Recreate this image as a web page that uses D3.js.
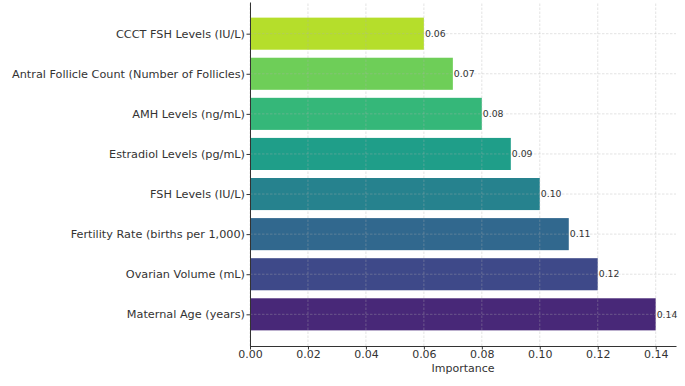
<!DOCTYPE html>
<html>
<head>
<meta charset="utf-8">
<script src="https://cdn.jsdelivr.net/npm/d3@7"></script>
<style>
  body { margin: 0; background: #fff; }
  text { font-family: "DejaVu Sans", sans-serif; }
</style>
</head>
<body>
<div id="chart"></div>
<script>
// features, sorted from most to least important
const features = [
    "Maternal Age (years)",
    "Ovarian Volume (mL)",
    "Fertility Rate (births per 1,000)",
    "FSH Levels (IU/L)",
    "Estradiol Levels (pg/mL)",
    "AMH Levels (ng/mL)",
    "Antral Follicle Count (Number of Follicles)",
    "CCCT FSH Levels (IU/L)"
];
const importance = [0.14, 0.12, 0.11, 0.10, 0.09, 0.08, 0.07, 0.06];
const xTicks = [0.00, 0.02, 0.04, 0.06, 0.08, 0.10, 0.12, 0.14];

let width = 685;
let height = 386;
let margin = { left: 250, right: 9, top: 2, bottom: 40 };

let svg = d3.select("#chart")
    .append("svg")
    .attr("width", width)
    .attr("height", height);

// x scale with matplotlib-like 5% margin on the right
let xMax = d3.max(importance) * 1.05;
let xScale = d3.scaleLinear()
    .domain([0, xMax])
    .range([margin.left, width - margin.right]);

// y: position index, first feature at the bottom
let n = features.length;
let yScale = d3.scaleLinear()
    .domain([-0.79, n - 1 + 0.79])
    .range([height - margin.bottom, margin.top]);
let barH = yScale(0) - yScale(0.8);

// seaborn viridis palette (n + 2 samples, ends dropped)
let colorOf = i => d3.interpolateViridis((i + 1) / (n + 1));

// bars
svg.selectAll("rect.bar")
    .data(importance)
    .enter()
    .append("rect")
    .attr("class", "bar")
    .attr("x", xScale(0))
    .attr("y", (d, i) => yScale(i) - barH / 2)
    .attr("width", d => xScale(d) - xScale(0))
    .attr("height", barH)
    .attr("fill", (d, i) => colorOf(i));

// grid, drawn over the bars
let grid = svg.append("g")
    .attr("stroke", "#b0b0b0")
    .attr("stroke-opacity", 0.5)
    .attr("stroke-width", 0.7)
    .attr("stroke-dasharray", "2.5,1.5");

grid.selectAll("line.vx")
    .data(xTicks)
    .enter()
    .append("line")
    .attr("x1", d => xScale(d))
    .attr("x2", d => xScale(d))
    .attr("y1", yScale.range()[0])
    .attr("y2", yScale.range()[1]);

grid.selectAll("line.hy")
    .data(d3.range(n))
    .enter()
    .append("line")
    .attr("x1", xScale.range()[0])
    .attr("x2", xScale.range()[1])
    .attr("y1", d => yScale(d))
    .attr("y2", d => yScale(d));

// value labels
svg.selectAll("text.val")
    .data(importance)
    .enter()
    .append("text")
    .attr("x", d => xScale(d) + 1)
    .attr("y", (d, i) => yScale(i))
    .attr("dy", "0.35em")
    .attr("font-size", "9.3px")
    .attr("fill", "#333")
    .text(d => d.toFixed(2));

// axes
let xAxis = d3.axisBottom(xScale)
    .tickValues(xTicks)
    .tickFormat(d3.format(".2f"))
    .tickSize(3.5)
    .tickSizeOuter(0);

let yAxis = d3.axisLeft(yScale)
    .tickValues(d3.range(n))
    .tickFormat(i => features[i])
    .tickSize(3.5)
    .tickSizeOuter(0);

let gx = svg.append("g")
    .attr("transform", "translate(0," + yScale.range()[0] + ")")
    .call(xAxis);

let gy = svg.append("g")
    .attr("transform", "translate(" + margin.left + ",0)")
    .call(yAxis);

[gx, gy].forEach(g => {
    g.select(".domain").attr("stroke", "#333").attr("stroke-width", 1);
    g.selectAll(".tick line").attr("stroke", "#333");
    g.selectAll(".tick text")
        .attr("fill", "#333")
        .style("font-family", "DejaVu Sans, sans-serif");
});
gx.selectAll(".tick text")
    .attr("font-size", "11px")
    .attr("y", 12)
    .attr("dy", 0);
gy.selectAll(".tick text")
    .attr("font-size", "11.25px")
    .attr("x", -5);

// axis title
svg.append("text")
    .attr("x", (xScale.range()[0] + xScale.range()[1]) / 2)
    .attr("y", 372)
    .attr("text-anchor", "middle")
    .attr("font-size", "11px")
    .attr("fill", "#333")
    .text("Importance");
</script>
</body>
</html>
